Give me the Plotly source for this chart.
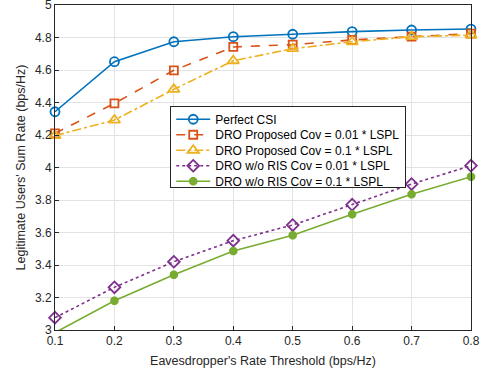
import plotly.graph_objects as go

x = [0.1, 0.2, 0.3, 0.4, 0.5, 0.6, 0.7, 0.8]
perfect_csi = [4.343, 4.651, 4.774, 4.805, 4.82, 4.836, 4.846, 4.852]
dro_prop_001 = [4.21, 4.395, 4.598, 4.742, 4.756, 4.785, 4.805, 4.824]
dro_prop_01 = [4.196, 4.292, 4.481, 4.657, 4.731, 4.774, 4.805, 4.815]
dro_noris_001 = [3.076, 3.263, 3.42, 3.55, 3.646, 3.771, 3.898, 4.011]
dro_noris_01 = [2.984, 3.18, 3.34, 3.486, 3.583, 3.712, 3.835, 3.943]

names = [
    "Perfect CSI",
    "DRO Proposed Cov = 0.01 * LSPL",
    "DRO Proposed Cov = 0.1 * LSPL",
    "DRO w/o RIS Cov = 0.01 * LSPL",
    "DRO w/o RIS Cov = 0.1 * LSPL",
]
series = [perfect_csi, dro_prop_001, dro_prop_01, dro_noris_001, dro_noris_01]
colors = ["#0072BD", "#D95319", "#EDB120", "#7E2F8E", "#77AC30"]
dashes = ["solid", "dash", "dashdot", "dot", "solid"]
symbols = ["circle-open", "square-open", "triangle-up-open", "diamond-open", "asterisk-open"]
sizes = [9, 8, 10, 9, 7]

fig = go.Figure()
for n, y, c, d, s, sz in zip(names, series, colors, dashes, symbols, sizes):
    fig.add_trace(go.Scatter(
        x=x, y=y, name=n, mode="lines+markers",
        line=dict(color=c, dash=d, width=1.6),
        marker=dict(symbol=s, size=sz, color=c, line=dict(color=c, width=1.8 if s != "asterisk-open" else 3)),
        cliponaxis=False,
    ))

axis_common = dict(
    showgrid=True, gridcolor="#e3e3e3", gridwidth=1,
    showline=True, linecolor="#262626", linewidth=1, mirror=True,
    ticks="inside", ticklen=4, tickcolor="#262626",
    tickfont=dict(family="Liberation Sans, Arial", size=12, color="#262626"),
    zeroline=False, automargin=False, ticklabeloverflow="allow",
)

fig.update_layout(
    width=485, height=382,
    margin=dict(l=55, r=14, t=5, b=52),
    paper_bgcolor="white", plot_bgcolor="white",
    font=dict(family="Liberation Sans, Arial", size=12, color="#262626"),
    xaxis=dict(range=[0.1, 0.8], tickvals=x, ticktext=[str(v) for v in x],
               title=dict(text="Eavesdropper's Rate Threshold (bps/Hz)", font=dict(size=12.5), standoff=8),
               **axis_common),
    yaxis=dict(range=[3, 5], tickvals=[3, 3.2, 3.4, 3.6, 3.8, 4, 4.2, 4.4, 4.6, 4.8, 5],
               ticktext=["3", "3.2", "3.4", "3.6", "3.8", "4", "4.2", "4.4", "4.6", "4.8", "5"],
               title=dict(text="Legitimate Users' Sum Rate (bps/Hz)", font=dict(size=12.5), standoff=6),
               **axis_common),
    legend=dict(x=0.277, y=0.69, xanchor="left", yanchor="top",
                bgcolor="white", bordercolor="#262626", borderwidth=1,
                font=dict(size=12, color="#000000"), tracegroupgap=0,
                itemwidth=34),
    showlegend=True,
)

post = """
document.body.style.margin='0';document.body.style.padding='0';
(function(){
  var step = 15.5;
  var tr = document.querySelectorAll('.legend .traces');
  if (!tr.length) return;
  var ys = [];
  tr.forEach(function(t){
    var m = /translate\\(([-\\d.]+)[ ,]+([-\\d.]+)\\)/.exec(t.getAttribute('transform') || '');
    ys.push(m ? [parseFloat(m[1]), parseFloat(m[2])] : [0, 0]);
  });
  var y0 = ys[0][1] - 2;
  var orig = ys.length > 1 ? ys[1][1] - ys[0][1] : 19;
  tr.forEach(function(t, i){
    t.setAttribute('transform', 'translate(' + ys[i][0] + ',' + (y0 + i * step) + ')');
  });
  var shrink = (orig - step) * (tr.length) + 7;
  document.querySelectorAll('.legend rect.bg').forEach(function(r){
    var h = parseFloat(r.getAttribute('height'));
    r.setAttribute('height', h - shrink);
  });
})();
"""

fig.write_html("out.html", config={"displayModeBar": False}, post_script=post)
